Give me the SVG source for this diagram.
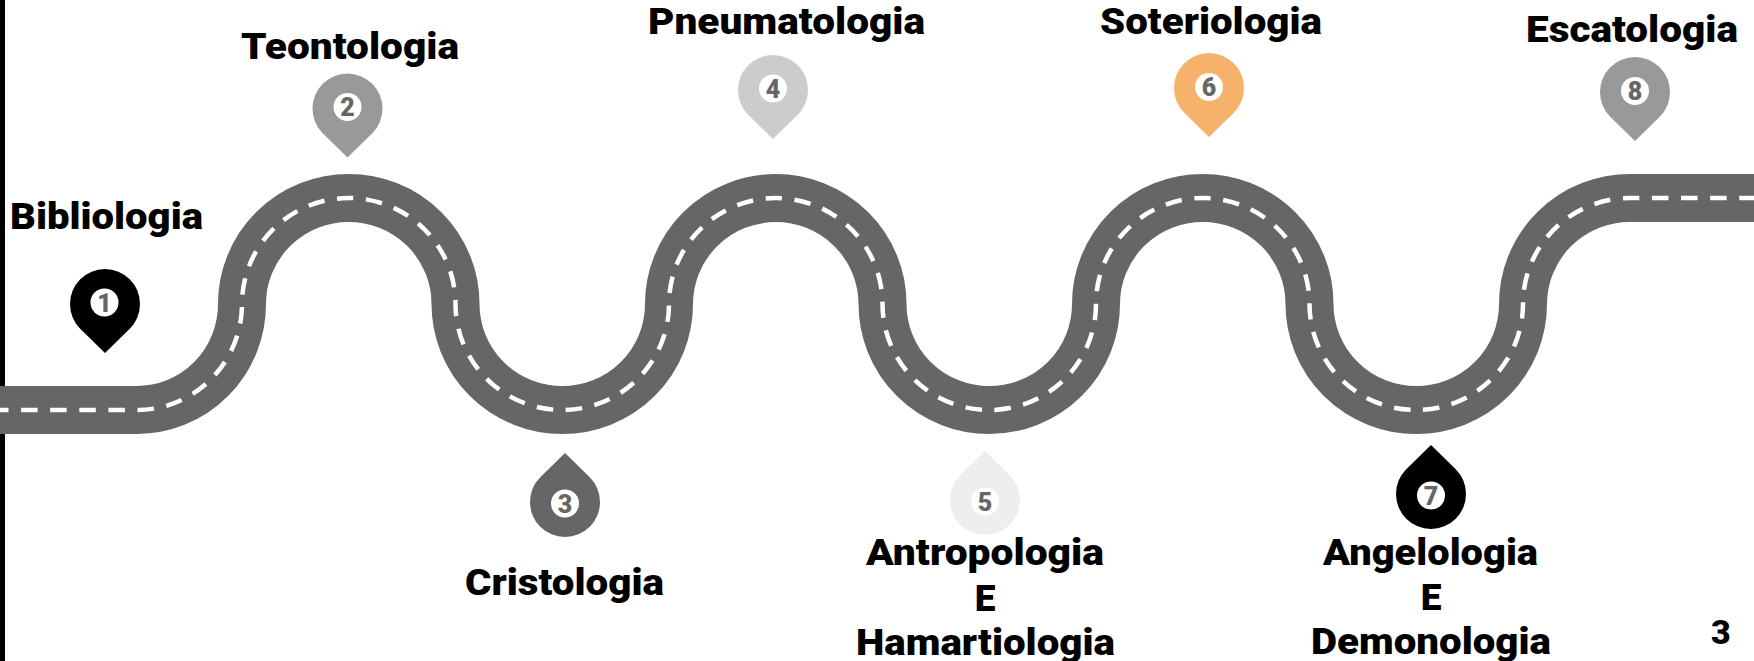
<svg xmlns="http://www.w3.org/2000/svg" width="1754" height="661" viewBox="0 0 1754 661">
<style>
.t{font-family:"Roboto","Liberation Sans",sans-serif;font-weight:900;font-size:37px;fill:#000}
.n{font-family:"Roboto","Liberation Sans",sans-serif;font-weight:900;font-size:25px;fill:#666;text-anchor:middle}
.road{fill:none;stroke:#666;stroke-width:48}
.dash{fill:none;stroke:#fff;stroke-width:4.5;stroke-dasharray:16.5 12.6;stroke-dashoffset:8}
</style>
<defs>
<path id="down" d="M0,49 L-24.75,24.75 A35,35 0 1 1 24.75,24.75 Z"/>
<path id="up" d="M0,-49 L-24.75,-24.75 A35,35 0 1 0 24.75,-24.75 Z"/>
</defs>
<rect id="bar" x="0" y="0" width="5" height="661" fill="#000"/>
<g id="connectors">
<path id="roadbed" class="road" d="M0,410 H137 A105,106 0 0 0 242,304 A106.75,106 0 0 1 455.5,304 A106.75,106 0 0 0 669,304 A106.75,106 0 0 1 882.5,304 A106.75,106 0 0 0 1096,304 A106.75,106 0 0 1 1309.5,304 A106.75,106 0 0 0 1523,304 A107,106 0 0 1 1630,198 H1754"/>
<path id="centerline" class="dash" d="M0,410 H137 A105,106 0 0 0 242,304 A106.75,106 0 0 1 455.5,304 A106.75,106 0 0 0 669,304 A106.75,106 0 0 1 882.5,304 A106.75,106 0 0 0 1096,304 A106.75,106 0 0 1 1309.5,304 A106.75,106 0 0 0 1523,304 A107,106 0 0 1 1630,198 H1754"/>
</g>
<g id="node1"><use href="#down" x="105" y="304" fill="#000"/><circle cx="104.5" cy="302.5" r="14" fill="#fff"/><text class="n" x="104.5" y="311.5">1</text><text class="t" x="10" y="229" textLength="193" lengthAdjust="spacingAndGlyphs">Bibliologia</text></g>
<g id="node2"><use href="#down" x="347.5" y="108.5" fill="#999"/><circle cx="347.5" cy="107" r="14" fill="#fff"/><text class="n" x="347.5" y="116">2</text><text class="t" x="241" y="59" textLength="218" lengthAdjust="spacingAndGlyphs">Teontologia</text></g>
<g id="node3"><use href="#up" x="565" y="502" fill="#666"/><circle cx="565" cy="503.5" r="14" fill="#fff"/><text class="n" x="565" y="512.5">3</text><text class="t" x="465" y="595" textLength="199" lengthAdjust="spacingAndGlyphs">Cristologia</text></g>
<g id="node4"><use href="#down" x="773" y="90" fill="#ccc"/><circle cx="773" cy="88.5" r="14" fill="#fff"/><text class="n" x="773" y="97.5">4</text><text class="t" x="648" y="34" textLength="277" lengthAdjust="spacingAndGlyphs">Pneumatologia</text></g>
<g id="node5"><use href="#up" x="985" y="500" fill="#eee"/><circle cx="985" cy="501.5" r="14" fill="#fff"/><text class="n" x="985" y="510.5">5</text><text class="t" x="866" y="565" textLength="238" lengthAdjust="spacingAndGlyphs">Antropologia</text><text class="t" x="985" y="611" text-anchor="middle">E</text><text class="t" x="856" y="655" textLength="259" lengthAdjust="spacingAndGlyphs">Hamartiologia</text></g>
<g id="node6"><use href="#down" x="1209" y="88" fill="#f6b26b"/><circle cx="1209" cy="87" r="14" fill="#fff"/><text class="n" x="1209" y="96">6</text><text class="t" x="1100" y="34" textLength="222" lengthAdjust="spacingAndGlyphs">Soteriologia</text></g>
<g id="node7"><use href="#up" x="1431" y="494" fill="#000"/><circle cx="1431" cy="495.5" r="14" fill="#fff"/><text class="n" x="1431" y="504.5">7</text><text class="t" x="1323" y="565" textLength="215" lengthAdjust="spacingAndGlyphs">Angelologia</text><text class="t" x="1431" y="610" text-anchor="middle">E</text><text class="t" x="1311" y="654" textLength="240" lengthAdjust="spacingAndGlyphs">Demonologia</text></g>
<g id="node8"><use href="#down" x="1635" y="92" fill="#999"/><circle cx="1635" cy="91" r="14" fill="#fff"/><text class="n" x="1635" y="100">8</text><text class="t" x="1526" y="42" textLength="212" lengthAdjust="spacingAndGlyphs">Escatologia</text></g>
<text id="page" class="t" x="1711" y="644" style="font-size:34px">3</text>
</svg>
